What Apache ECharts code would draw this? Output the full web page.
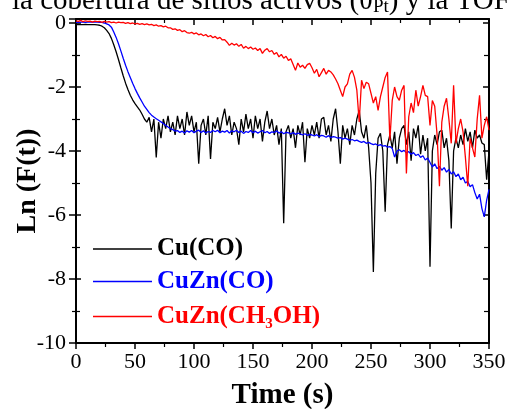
<!DOCTYPE html>
<html>
<head>
<meta charset="utf-8">
<script src="https://cdn.jsdelivr.net/npm/echarts@6/dist/echarts.min.js"></script>
<style>
html,body{margin:0;padding:0;background:#fff;}
#chart{width:509px;height:409px;}
</style>
</head>
<body>
<div id="chart"></div>
<script>
// Time axis (s)
var times = [
0,2,4,6,8,10,12,14,16,18,
20,22,24,26,28,30,32,34,36,38,
40,42,44,46,48,50,52,54,56,58,
60,62,64,66,68,70,72,74,76,78,
80,82,84,86,88,90,92,94,96,98,
100,102,104,106,108,110,112,114,116,118,
120,122,124,126,128,130,132,134,136,138,
140,142,144,146,148,150,152,154,156,158,
160,162,164,166,168,170,172,174,176,178,
180,182,184,186,188,190,192,194,196,198,
200,202,204,206,208,210,212,214,216,218,
220,222,224,226,228,230,232,234,236,238,
240,242,244,246,248,250,252,254,256,258,
260,262,264,266,268,270,272,274,276,278,
280,282,284,286,288,290,292,294,296,298,
300,302,304,306,308,310,312,314,316,318,
320,322,324,326,328,330,332,334,336,338,
340,342,344,346,348,350];

// Cu(CO)
var cuCO = [
-0.05,-0.04,-0.05,-0.05,-0.04,-0.05,-0.05,-0.05,-0.05,-0.06,
-0.07,-0.1,-0.15,-0.23,-0.33,-0.48,-0.68,-0.9,-1.14,-1.4,
-1.65,-1.88,-2.08,-2.26,-2.4,-2.52,-2.62,-2.72,-2.85,-3.0,
-3.1,-2.95,-3.4,-3.0,-4.2,-3.1,-3.6,-3.0,-3.3,-2.9,
-3.4,-3.1,-3.5,-2.9,-3.3,-3.0,-3.5,-2.78,-3.2,-2.9,
-3.4,-3.1,-4.4,-3.2,-3.0,-3.5,-2.9,-4.25,-3.1,-3.3,
-2.95,-3.4,-3.0,-2.68,-3.2,-2.9,-3.5,-3.1,-3.3,-3.8,
-3.0,-3.4,-2.85,-3.3,-3.0,-3.6,-2.9,-3.3,-3.0,-3.7,
-3.1,-2.75,-3.3,-3.0,-3.5,-3.2,-3.8,-3.3,-6.26,-3.4,
-3.2,-3.6,-3.3,-3.9,-3.2,-3.5,-3.1,-4.35,-3.3,-3.6,
-3.2,-3.5,-3.1,-3.6,-3.0,-2.95,-3.5,-3.2,-3.7,-3.0,
-2.68,-3.4,-4.4,-3.2,-3.6,-3.3,-3.8,-3.2,-3.5,-3.0,
-2.73,-3.4,-3.6,-3.2,-3.9,-5.0,-7.78,-4.7,-3.6,-3.45,
-4.0,-5.9,-3.8,-3.5,-3.9,-3.4,-4.4,-3.6,-3.3,-3.2,
-3.8,-3.4,-4.3,-3.3,-3.6,-3.2,-4.1,-3.5,-4.0,-3.6,
-7.62,-4.0,-3.5,-3.8,-3.4,-3.35,-3.9,-3.6,-4.3,-6.42,
-4.0,-3.6,-3.9,-3.5,-3.8,-3.3,-3.7,-3.4,-3.9,-3.35,
-3.6,-3.5,-3.75,-3.8,-4.9,-4.0];

// CuZn(CO)
var cuznCO = [
0.02,0.02,0.03,0.03,0.02,0.03,0.03,0.03,0.03,0.03,
0.02,0.02,0.0,-0.03,-0.06,-0.13,-0.28,-0.45,-0.65,-0.87,
-1.1,-1.32,-1.52,-1.7,-1.88,-2.05,-2.2,-2.34,-2.47,-2.6,
-2.7,-2.8,-2.88,-2.94,-2.99,-3.04,-3.09,-3.14,-3.2,-3.25,
-3.3,-3.33,-3.38,-3.36,-3.42,-3.38,-3.44,-3.37,-3.41,-3.36,
-3.43,-3.38,-3.35,-3.42,-3.37,-3.44,-3.39,-3.42,-3.36,-3.4,
-3.35,-3.43,-3.38,-3.41,-3.36,-3.44,-3.37,-3.4,-3.35,-3.42,
-3.38,-3.45,-3.39,-3.42,-3.36,-3.43,-3.38,-3.44,-3.4,-3.36,
-3.43,-3.39,-3.45,-3.4,-3.42,-3.37,-3.44,-3.4,-3.46,-3.42,
-3.43,-3.47,-3.42,-3.48,-3.44,-3.46,-3.5,-3.46,-3.51,-3.48,
-3.5,-3.53,-3.49,-3.55,-3.51,-3.53,-3.57,-3.52,-3.58,-3.55,
-3.57,-3.6,-3.58,-3.63,-3.6,-3.63,-3.67,-3.64,-3.68,-3.66,
-3.7,-3.73,-3.7,-3.76,-3.73,-3.77,-3.8,-3.78,-3.83,-3.8,
-3.85,-3.83,-3.88,-3.86,-3.92,-4.19,-4.0,-3.96,-4.02,-3.98,
-4.06,-4.02,-4.1,-4.05,-4.14,-4.1,-4.2,-4.15,-4.28,-4.22,
-4.36,-4.5,-4.4,-4.55,-4.48,-4.6,-4.52,-4.66,-4.58,-4.72,
-4.65,-4.8,-4.72,-4.9,-4.82,-5.0,-4.95,-5.12,-5.05,-5.3,
-5.5,-5.35,-5.8,-6.06,-5.54,-5.2];

// CuZn(CH3OH)
var cuznMeOH = [
0.07,0.05,0.08,0.04,0.07,0.05,0.06,0.03,0.06,0.04,
0.05,0.02,0.05,0.03,0.04,0.01,0.03,0.0,0.03,0.01,
0.02,-0.01,0.01,-0.02,0.0,-0.03,-0.01,-0.04,-0.02,-0.05,
-0.03,-0.06,-0.04,-0.08,-0.06,-0.1,-0.08,-0.12,-0.1,-0.15,
-0.15,-0.2,-0.18,-0.23,-0.21,-0.27,-0.24,-0.3,-0.32,-0.29,
-0.34,-0.31,-0.37,-0.34,-0.4,-0.36,-0.43,-0.39,-0.46,-0.42,
-0.49,-0.45,-0.53,-0.52,-0.6,-0.7,-0.63,-0.69,-0.65,-0.73,
-0.67,-0.79,-0.73,-0.8,-0.75,-0.82,-0.78,-0.86,-0.8,-0.95,
-0.85,-0.8,-0.9,-0.86,-0.98,-0.92,-1.06,-0.98,-1.1,-1.04,
-1.17,-1.12,-1.3,-1.48,-1.25,-1.38,-1.32,-1.42,-1.3,-1.26,
-1.4,-1.57,-1.45,-1.68,-1.55,-1.42,-1.6,-1.48,-1.53,-1.62,
-1.75,-1.9,-2.1,-2.3,-2.0,-1.9,-1.6,-1.48,-1.7,-2.1,
-3.09,-1.79,-2.05,-1.85,-1.9,-2.2,-2.5,-2.3,-2.73,-2.3,
-2.0,-1.7,-1.53,-3.67,-2.42,-2.0,-2.3,-2.42,-2.1,-1.95,
-4.7,-2.93,-2.5,-2.8,-2.1,-2.6,-2.3,-1.95,-2.26,-2.3,
-3.2,-2.42,-2.6,-3.5,-5.1,-3.1,-2.6,-2.35,-3.0,-3.76,
-1.95,-3.76,-3.3,-3.0,-3.4,-4.2,-5.1,-3.6,-3.9,-4.19,
-3.0,-2.26,-3.6,-3.2,-2.93,-3.35];

var seriesNames = ['Cu(CO)', 'CuZn(CO)', 'CuZn(CH3OH)'];
var seriesColors = ['#000000', '#0000ff', '#ff0000'];
var seriesValues = [cuCO, cuznCO, cuznMeOH];

var FONT = '"Liberation Serif", "Times New Roman", serif';

function pairs(vals) {
  return times.map(function (t, i) { return [t, vals[i]]; });
}

var chart = echarts.init(document.getElementById('chart'), null, {renderer: 'canvas'});

var yCommon = {type: 'value', min: -10, max: 0.125, interval: 2};
var xCommon = {type: 'value', min: 0, max: 350, interval: 50};

var option = {
  animation: false,
  backgroundColor: '#ffffff',
  grid: {left: 76, top: 19, width: 413, height: 324, containLabel: false, outerBoundsMode: 'none'},
  graphic: [{
    type: 'text',
    left: 12,
    top: -14,
    style: {
      text: 'la cobertura de sitios activos (θ{sub|Pt}) y la TOF',
      font: '29px ' + FONT,
      fill: '#000',
      rich: {
        sub: {fontSize: 19, fontFamily: FONT, fill: '#000', padding: [12, 0, 0, 0], lineHeight: 16}
      }
    }
  }],
  legend: {
    orient: 'vertical',
    left: 93,
    top: 236,
    padding: 0,
    icon: 'rect',
    itemWidth: 59,
    itemHeight: 1.6,
    itemGap: 6.5,
    data: seriesNames.map(function (n, i) {
      return {name: n, textStyle: {color: seriesColors[i]}};
    }),
    formatter: function (name) {
      return name === 'CuZn(CH3OH)' ? 'CuZn(CH{sub|3}OH)' : name;
    },
    textStyle: {
      fontFamily: FONT, fontSize: 25, fontWeight: 'bold', lineHeight: 26,
      rich: {
        sub: {fontFamily: FONT, fontSize: 15, fontWeight: 'bold', color: '#ff0000', padding: [16, 0, 0, 0], lineHeight: 10}
      }
    }
  },
  xAxis: [
    Object.assign({}, xCommon, {
      position: 'bottom',
      name: 'Time (s)',
      nameLocation: 'middle',
      nameGap: 38,
      nameMoveOverlap: false,
      nameTextStyle: {fontFamily: FONT, fontSize: 29, fontWeight: 'bold', color: '#000'},
      axisLine: {show: true, onZero: false, lineStyle: {color: '#000', width: 2}},
      axisTick: {show: true, inside: false, length: 6, lineStyle: {color: '#000', width: 1.5}},
      minorTick: {show: true, splitNumber: 2, length: 4, lineStyle: {color: '#000', width: 1.2}},
      axisLabel: {fontFamily: FONT, fontSize: 22, color: '#000', margin: 8},
      splitLine: {show: false}
    }),
    Object.assign({}, xCommon, {
      position: 'top',
      axisLine: {show: true, onZero: false, lineStyle: {color: '#000', width: 2}},
      axisTick: {show: true, inside: true, length: 6, lineStyle: {color: '#000', width: 1.5}},
      minorTick: {show: true, splitNumber: 2, length: 4, lineStyle: {color: '#000', width: 1.2}},
      axisLabel: {show: false},
      splitLine: {show: false}
    })
  ],
  yAxis: [
    Object.assign({}, yCommon, {
      position: 'left',
      name: 'Ln (F(t))',
      nameLocation: 'middle',
      nameGap: 34,
      nameMoveOverlap: false,
      nameTextStyle: {fontFamily: FONT, fontSize: 28, fontWeight: 'bold', color: '#000'},
      axisLine: {show: true, onZero: false, lineStyle: {color: '#000', width: 2}},
      axisTick: {show: true, inside: false, length: 7, lineStyle: {color: '#000', width: 1.5}},
      minorTick: {show: true, splitNumber: 2, length: 4, lineStyle: {color: '#000', width: 1.2}},
      axisLabel: {
        fontFamily: FONT, fontSize: 22, color: '#000', margin: 10,
        formatter: function (v) { return Math.abs(v % 2) < 1e-9 ? String(v) : ''; }
      },
      splitLine: {show: false}
    }),
    Object.assign({}, yCommon, {
      position: 'left',
      offset: 0,
      axisLine: {show: false},
      axisTick: {show: true, inside: true, length: 5, lineStyle: {color: '#000', width: 1.5}},
      minorTick: {show: true, splitNumber: 2, length: 4, lineStyle: {color: '#000', width: 1.2}},
      axisLabel: {show: false},
      splitLine: {show: false}
    }),
    Object.assign({}, yCommon, {
      position: 'right',
      axisLine: {show: true, onZero: false, lineStyle: {color: '#000', width: 2}},
      axisTick: {show: true, inside: true, length: 6, lineStyle: {color: '#000', width: 1.5}},
      minorTick: {show: true, splitNumber: 2, length: 5, lineStyle: {color: '#000', width: 1.2}},
      axisLabel: {show: false},
      splitLine: {show: false}
    })
  ],
  series: seriesNames.map(function (n, i) {
    return {
      name: n,
      type: 'line',
      xAxisIndex: 0,
      yAxisIndex: 0,
      data: pairs(seriesValues[i]),
      symbol: 'none',
      showSymbol: false,
      lineStyle: {color: seriesColors[i], width: 1.3},
      itemStyle: {color: seriesColors[i]},
      emphasis: {disabled: true}
    };
  })
};

chart.setOption(option);
</script>
</body>
</html>
